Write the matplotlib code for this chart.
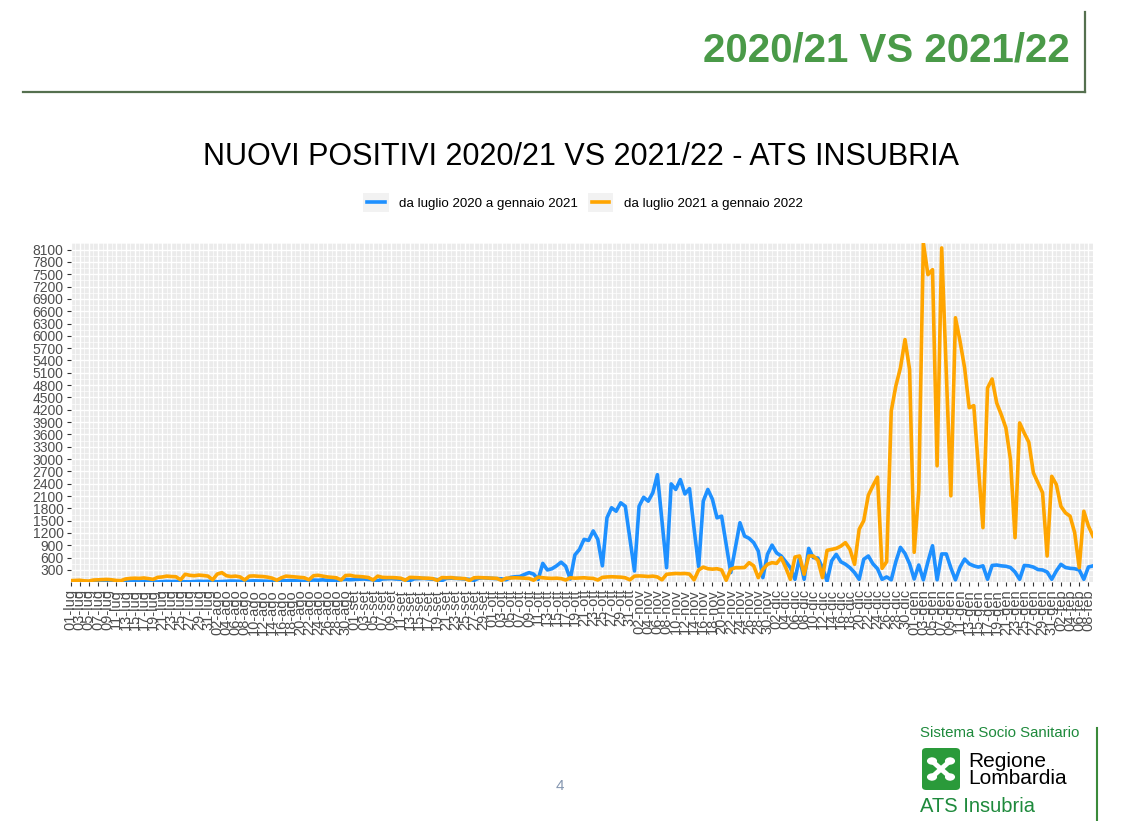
import matplotlib
matplotlib.use("Agg")
import matplotlib.pyplot as plt
import numpy as np
import pandas as pd
from matplotlib.patches import FancyBboxPatch, Circle, Rectangle
from matplotlib.lines import Line2D
from matplotlib.legend_handler import HandlerLine2D

plt.rcParams['font.family'] = ['Liberation Sans', 'DejaVu Sans']

W, H = 1125, 821

# daily new positives, 01 Jul -> 09 Feb
blue_2020 = [
    20, 15, 12, 18, 10, 8, 14, 22, 16, 12, 18, 10, 7, 12, 20, 15, 18, 14, 10, 8,
    16, 22, 18, 20, 15, 12, 10, 18, 24, 20, 22,
    25, 12, 18, 26, 30, 28, 24, 15, 30, 35, 32, 28, 25, 18, 30, 40, 38, 42, 36,
    30, 22, 45, 55, 50, 60, 48, 40, 30, 65, 70, 62,
    70, 75, 80, 70, 60, 35, 80, 85, 90, 80, 75, 60, 40, 85, 90, 95, 85, 75, 65,
    40, 95, 100, 95, 90, 80, 70, 45, 100, 110, 100,
    95, 90, 85, 60, 120, 135, 140, 190, 235, 200, 70, 460, 300, 330, 400, 490,
    390, 80, 665, 800, 1045, 1020, 1250, 1045, 400, 1570, 1815, 1730, 1935, 1850,
    1060,
    275, 1850, 2070, 1975, 2180, 2620, 1500, 355, 2395, 2260, 2500, 2150, 2280,
    1300, 380, 1975, 2260, 2020, 1570, 1610, 920, 235, 850, 1450, 1125, 1070, 965,
    760, 113,
    680, 905, 715, 640, 500, 355, 72, 600, 72, 825, 600, 590, 355, 30, 520, 680,
    500, 440, 355, 235, 72, 560, 640, 450, 330, 72, 130, 60, 500, 850, 700, 450,
    80, 420, 60, 500, 890, 60, 690, 690, 350, 60, 365, 565, 450, 400, 370, 400,
    73, 410, 420, 400, 390, 360, 250, 73, 410, 400, 370, 310, 300, 250, 73,
    275, 437, 360, 340, 330, 300, 73, 372, 400,
]

orange_2021 = [
    40, 45, 50, 35, 30, 55, 60, 65, 70, 60, 45, 40, 80, 95, 100, 95, 105, 90, 70,
    120, 130, 150, 140, 135, 60, 195, 170, 160, 175, 165, 150,
    60, 200, 235, 160, 140, 150, 130, 55, 150, 155, 145, 140, 125, 100, 50, 110,
    150, 140, 130, 120, 110, 60, 160, 170, 150, 130, 120, 110, 55, 165, 170,
    145, 140, 130, 115, 55, 150, 120, 115, 115, 110, 100, 50, 120, 115, 110, 100,
    100, 90, 45, 115, 110, 115, 100, 95, 90, 45, 110, 115, 110, 105,
    100, 95, 45, 100, 105, 110, 105, 100, 95, 50, 125, 110, 100, 95, 100, 90, 55,
    110, 100, 105, 110, 100, 95, 55, 120, 130, 135, 130, 125, 110, 60,
    150, 155, 150, 140, 150, 130, 60, 195, 205, 215, 210, 215, 200, 60, 300, 370,
    330, 320, 330, 300, 50, 315, 355, 355, 360, 478, 400, 113,
    315, 437, 478, 460, 600, 355, 72, 615, 640, 195, 640, 640, 535, 113, 777, 800,
    825, 880, 965, 800, 437, 1290, 1500, 2120, 2350, 2560, 340, 500, 4170, 4780,
    5220, 5910, 5180,
    730, 2225, 8260, 7490, 7610, 2835, 8140, 5100, 2105, 6440, 5870, 5220, 4250,
    4300, 2800, 1330, 4730, 4950, 4365, 4080, 3760, 2990, 1085, 3880, 3635, 3410,
    2665, 2420, 2180, 640, 2580, 2380, 1850, 1690, 1610, 1210, 355,
    1730, 1370, 1125,
]

mesi = {7: 'lug', 8: 'ago', 9: 'set', 10: 'ott', 11: 'nov', 12: 'dic', 1: 'gen', 2: 'feb'}
days = pd.date_range('2020-07-01', periods=len(blue_2020), freq='D')
day_labels = ['%02d-%s' % (d.day, mesi[d.month]) for d in days]

serie_labels = ['da luglio 2020 a gennaio 2021', 'da luglio 2021 a gennaio 2022']
serie_colors = ['#1E90FF', '#FFA500']


class KeyWithBox(HandlerLine2D):
    """ggplot-like legend key: line on a light grey square"""
    def create_artists(self, legend, orig_handle, xdescent, ydescent,
                       width, height, fontsize, trans):
        arts = super().create_artists(legend, orig_handle, xdescent, ydescent,
                                      width, height, fontsize, trans)
        box = Rectangle((-xdescent - 3, -ydescent - height * 0.55), width + 6,
                        height * 2.1, facecolor='#f2f2f2', edgecolor='none',
                        transform=trans)
        return [box] + arts


fig = plt.figure(figsize=(W / 100, H / 100), dpi=100)


def fx(px):
    return px / W


def fy(py):
    return 1 - py / H


# header
fig.text(fx(1070), fy(50), '2020/21 VS 2021/22', ha='right', va='center',
         fontsize=29, fontweight='bold', color='#4a9a48')
fig.add_artist(Line2D([fx(23), fx(1085)], [fy(92), fy(92)], color='#55704f', lw=1.6))
fig.add_artist(Line2D([fx(1085), fx(1085)], [fy(12), fy(92)], color='#55704f', lw=1.6))

fig.text(fx(581), fy(157), 'NUOVI POSITIVI 2020/21 VS 2021/22 - ATS INSUBRIA',
         ha='center', va='center', fontsize=22, color='black')

# main plot
ax = fig.add_axes([fx(70.5), fy(582), fx(1093) - fx(70.5), fy(243) - fy(582)])
ax.set_facecolor('#ebebeb')
x = np.arange(len(blue_2020))
ax.plot(x, blue_2020, color=serie_colors[0], lw=2.6, label=serie_labels[0],
        solid_joinstyle='round')
ax.plot(x, orange_2021, color=serie_colors[1], lw=2.6, label=serie_labels[1],
        solid_joinstyle='round')

allv = blue_2020 + orange_2021
ax.set_xlim(0, len(x) - 1)
ax.set_ylim(min(allv), max(allv))

ax.set_xticks(x[::2])
ax.set_xticklabels(day_labels[::2], rotation=90, fontsize=10.5, color='#4d4d4d')
ax.set_xticks(x, minor=True)
yt = np.arange(300, 8101, 300)
ax.set_yticks(yt)
ax.set_yticklabels([str(v) for v in yt], fontsize=10, color='#4d4d4d')
ax.set_yticks(np.arange(150, 8260, 150), minor=True)
ax.tick_params(which='major', length=3, color='#333333', pad=2)
ax.tick_params(which='minor', length=0)
ax.set_axisbelow(True)
ax.grid(which='major', color='white', lw=1.0)
ax.grid(which='minor', color='white', lw=0.5)
for s in ax.spines.values():
    s.set_visible(False)

fig.legend(loc='center', bbox_to_anchor=(fx(585), fy(204)), ncol=2, frameon=False,
           fontsize=9.6, handlelength=1.3, columnspacing=1.0, handletextpad=1.1,
           handler_map={Line2D: KeyWithBox()})

# footer
fig.text(fx(560), fy(786), '4', ha='center', va='center', fontsize=11, color='#8496b0')

fig.text(fx(920), fy(733), 'Sistema Socio Sanitario', ha='left', va='center',
         fontsize=10.8, color='#1e8a3c')
logo = FancyBboxPatch((fx(922), fy(790)), fx(38), fy(748) - fy(790),
                      boxstyle='round,pad=0,rounding_size=0.004',
                      transform=fig.transFigure, facecolor='#2a9a3a', edgecolor='none')
fig.add_artist(logo)
cx, cy = 941, 769
for dx, dy in [(-9, -8), (9, -8), (-9, 8), (9, 8)]:
    fig.add_artist(Line2D([fx(cx), fx(cx + dx)], [fy(cy), fy(cy + dy)],
                          color='white', lw=3.5))
    fig.add_artist(Circle((fx(cx + dx), fy(cy + dy)), 0.0045, transform=fig.transFigure,
                          facecolor='white', edgecolor='none'))
fig.text(fx(968), fy(761), 'Regione', ha='left', va='center', fontsize=15, color='black')
fig.text(fx(968), fy(778), 'Lombardia', ha='left', va='center', fontsize=15, color='black')
fig.text(fx(920), fy(806), 'ATS Insubria', ha='left', va='center', fontsize=14.5,
         color='#1e8a3c')
fig.add_artist(Line2D([fx(1097), fx(1097)], [fy(728), fy(821)], color='#3a8a3a', lw=1.5))

fig.savefig('out.png', dpi=100)
